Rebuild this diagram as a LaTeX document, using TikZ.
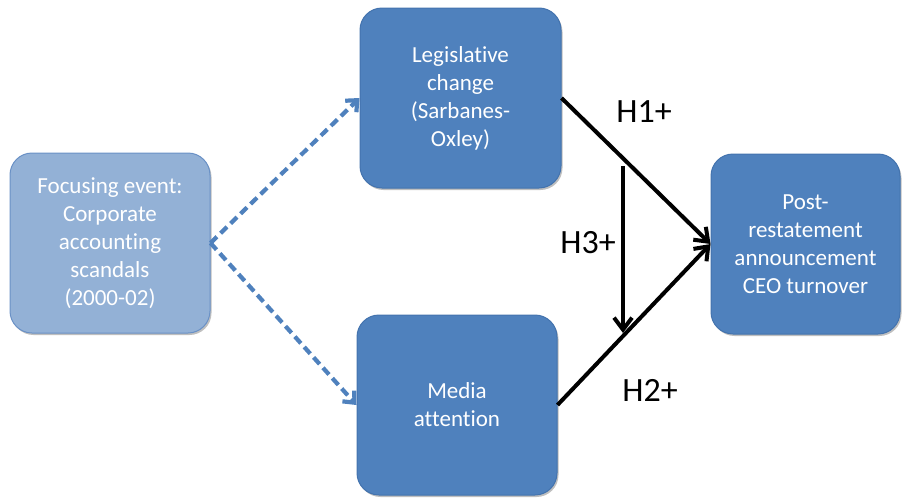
\documentclass[tikz,border=0pt]{standalone}
\usepackage{fontspec}
\setmainfont{Carlito}[Ligatures=NoCommon]
\usetikzlibrary{arrows.meta,shadows}
\definecolor{dblue}{HTML}{4F81BD}
\definecolor{dborder}{HTML}{4373AE}
\definecolor{lblue}{HTML}{93B1D6}
\definecolor{lborder}{HTML}{6A91C6}
\tikzset{
  box/.style={rectangle, rounded corners=22pt, fill=dblue, draw=dborder, line width=1pt,
    text=white, align=center, font=\fontsize{23}{28}\selectfont,
    minimum width=200pt, minimum height=180pt, inner sep=0pt,
    drop shadow={shadow xshift=1.5pt, shadow yshift=-2pt, opacity=0.25, fill=black}},
  lightbox/.style={box, fill=lblue, draw=lborder},
  dasharrow/.style={draw=dblue, line width=4.2pt, dash pattern=on 9pt off 5pt,
    -{Straight Barb[length=9pt,width=16pt]}},
  hyparrow/.style={draw=black, line width=4pt,
    -{Straight Barb[length=12pt,width=18pt]}},
  hlabel/.style={font=\fontsize{34}{38}\selectfont, text=black, inner sep=0pt}
}
\begin{document}
\begin{tikzpicture}[x=1pt,y=-1pt]
\useasboundingbox (0,0) rectangle (902,498);
\node[lightbox] (focus) at (110,243) {Focusing event:\\Corporate\\accounting\\scandals\\(2000-02)};
\node[box, minimum width=201pt] (leg) at (460.5,98) {Legislative\\change\\(Sarbanes-\\Oxley)};
\node[box] (media) at (457,405) {Media\\attention};
\node[box, minimum width=189pt] (post) at (805.5,244) {Post-\\restatement\\announcement\\CEO turnover};
\draw[dasharrow] (focus.east) -- (leg.west);
\draw[dasharrow] (focus.east) -- (media.west);
\draw[hyparrow] (leg.east) -- (post.west);
\draw[hyparrow] (media.east) -- (post.west);
\coordinate (vtop) at (623,166);
\coordinate (vbot) at (623,333);
\draw[hyparrow] (vtop) -- (vbot);
\node[hlabel] (h1) at (644,112) {H1+};
\node[hlabel] (h2) at (650,390) {H2+};
\node[hlabel] (h3) at (588,243) {H3+};
\end{tikzpicture}
\end{document}
